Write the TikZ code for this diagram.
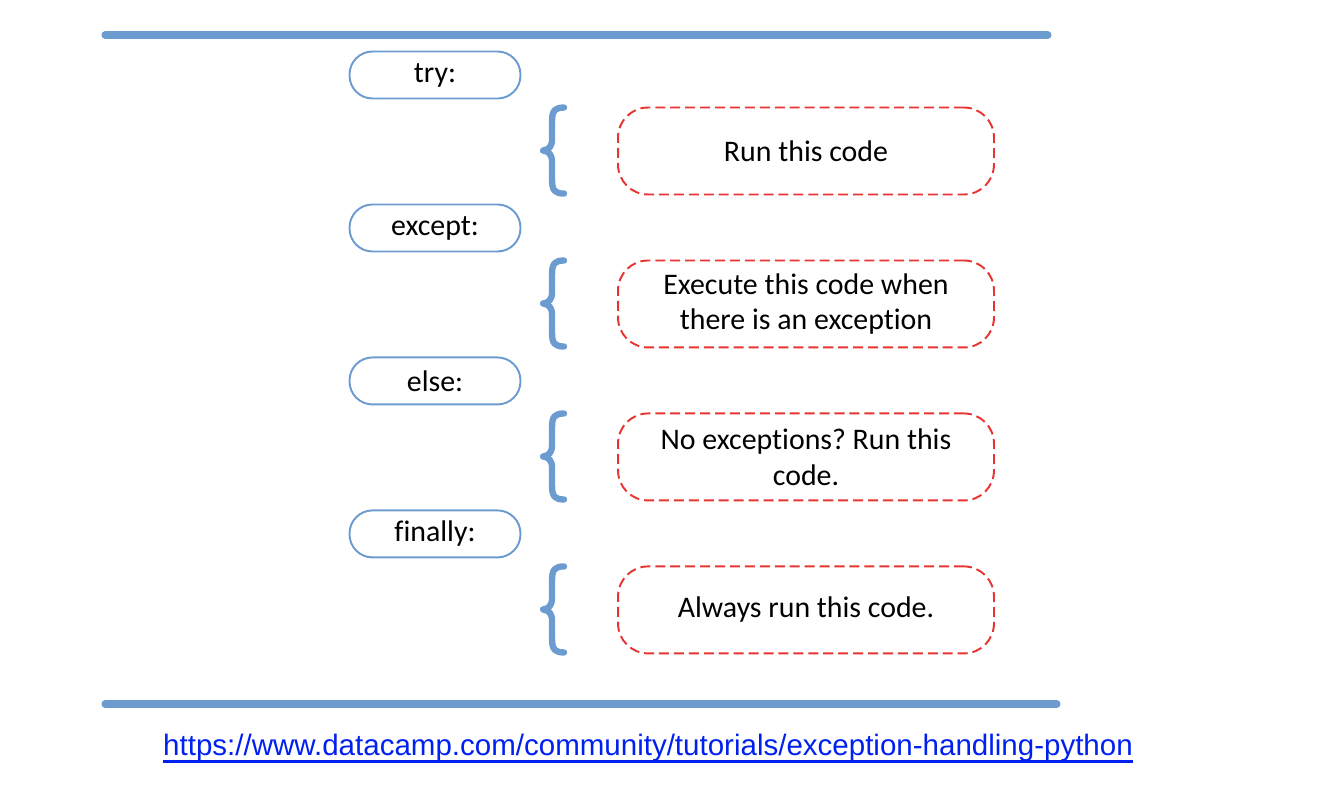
\documentclass[tikz,border=0pt]{standalone}
\usepackage{fontspec}
\setmainfont{Carlito}[Ligatures={NoCommon}]
\newfontfamily\urlfont{Liberation Sans}
\usepackage{xcolor}
\usepackage{tikz}
\usetikzlibrary{positioning}
\definecolor{lineblue}{RGB}{108,155,208}
\definecolor{dashred}{RGB}{232,52,48}
\definecolor{linkblue}{RGB}{0,32,240}
\tikzstyle{keyword} = [draw=lineblue, line width=1.1pt, rounded corners=0.46cm, minimum width=3.42cm, minimum height=0.94cm, inner sep=0pt]
\tikzstyle{action} = [draw=dashred, line width=1.1pt, dash pattern=on 5.7pt off 2.8pt, rounded corners=0.6cm, minimum width=7.52cm, minimum height=1.74cm, align=center, inner sep=0pt]
\tikzstyle{bracestyle} = [draw=lineblue, line width=3.6pt, line cap=round, line join=round]
\tikzstyle{hrule} = [draw=lineblue, line width=4pt, line cap=round]
\tikzset{curly/.pic={
  \draw[bracestyle] (0,0) .. controls (-9,0) and (-12,3) .. (-12,13) -- (-12,31)
    .. controls (-12,39) and (-15,42) .. (-21,43) .. controls (-15,44) and (-12,47) .. (-12,55)
    -- (-12,73) .. controls (-12,83) and (-9,86) .. (0,86);
}}
\newcommand{\linkul}[1]{\setbox0\hbox{#1}\rlap{\raisebox{-4.5pt}{\rule{\wd0}{1.7pt}}}\box0}

\begin{document}
\frenchspacing
\begin{tikzpicture}[x=0.02cm, y=-0.02cm, node distance=3.06cm, font=\fontsize{17}{20.4}\selectfont]
\useasboundingbox (0,0) rectangle (1320,788);
\draw[hrule] (105,35) -- (1048,35);
\draw[hrule] (105,704) -- (1057,704);

\node [keyword] (try) at (435,75) {try:};
\node [keyword, below of=try] (except) {except:};
\node [keyword, below of=except] (else) {else:};
\node [keyword, below of=else] (finally) {finally:};

\node [action] (run) at (806,151) {Run this code};
\node [action, below of=run] (handle) {Execute this code when\\there is an exception};
\node [action, below of=handle] (noexc) {No exceptions? Run this\\code.};
\node [action, below of=noexc] (always) {Always run this code.};

% braces in front of each block
\pic at ([xshift=-1.06cm, yshift=-0.02cm]run.north west) {curly};
\pic at ([xshift=-1.06cm, yshift=-0.02cm]handle.north west) {curly};
\pic at ([xshift=-1.06cm, yshift=-0.02cm]noexc.north west) {curly};
\pic at ([xshift=-1.06cm, yshift=-0.02cm]always.north west) {curly};

\node [anchor=base, inner sep=0pt, text=linkblue, font=\urlfont\fontsize{16.8}{20}\selectfont] (url) at (648,755) {\linkul{https://www.datacamp.com/community/tutorials/exception-handling-python}};
\end{tikzpicture}
\end{document}
